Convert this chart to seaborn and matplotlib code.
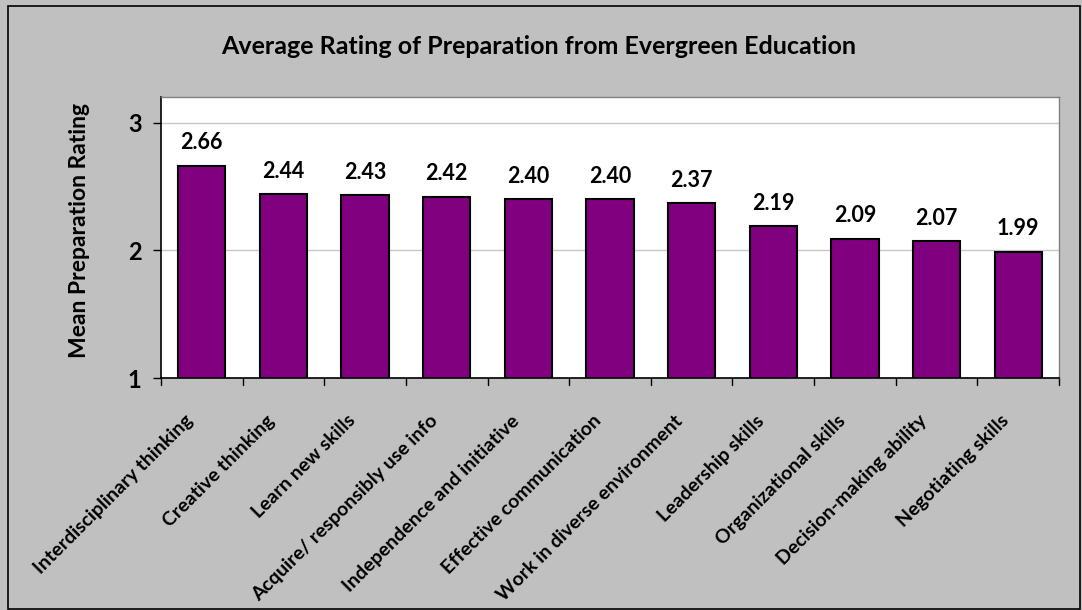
import matplotlib
matplotlib.use("Agg")
import matplotlib.pyplot as plt
import seaborn as sns
import pandas as pd
from matplotlib.patches import Rectangle
from matplotlib.transforms import ScaledTranslation

categories = ["Interdisciplinary thinking", "Creative thinking", "Learn new skills",
              "Acquire/ responsibly use info", "Independence and initiative",
              "Effective communication", "Work in diverse environment",
              "Leadership skills", "Organizational skills", "Decision-making ability",
              "Negotiating skills"]
values = [2.66, 2.44, 2.43, 2.42, 2.40, 2.40, 2.37, 2.19, 2.09, 2.07, 1.99]
yticks = [1, 2, 3]
title = "Average Rating of Preparation from Evergreen Education"
ylabel = "Mean Preparation Rating"

sns.set_style("white")
plt.rcParams['font.family'] = ['Lato', 'DejaVu Sans']
plt.rcParams['font.weight'] = 'bold'
for k in ['text.color', 'axes.labelcolor', 'xtick.color', 'ytick.color']:
    plt.rcParams[k] = 'black'

df = pd.DataFrame({"cat": categories, "val": values})

fig = plt.figure(figsize=(10.82, 6.10), dpi=100)
fig.patch.set_facecolor("#C0C0C0")
ax = fig.add_axes([161/1082, 1-378/610, (1059-161)/1082, (378-97)/610])
ax.set_facecolor("white")

sns.barplot(data=df, x="cat", y="val", color="#800080", edgecolor="black",
            linewidth=1.5, width=0.58, saturation=1, ax=ax)

ax.set_ylim(1, 3.2)
ax.set_xlim(-0.5, len(categories) - 0.5)
ax.set_yticks(yticks)
ax.set_yticklabels([str(t) for t in yticks], fontsize=17, fontweight='bold', color='black')
ax.yaxis.grid(True, color="#C8C8C8", linewidth=1)
ax.set_axisbelow(True)
ax.tick_params(axis='y', direction='out', length=6, width=1, color='black', left=True, pad=8)

ax.set_xticks([i for i in range(len(categories))])
ax.set_xticklabels(categories, rotation=45, ha='right', va='center', rotation_mode='anchor',
                   fontsize=14, fontweight='bold', color='black')
ax.tick_params(axis='x', length=0, pad=0)
shift = ScaledTranslation(-12/100, -40/100, fig.dpi_scale_trans)
for lab in ax.get_xticklabels():
    lab.set_transform(lab.get_transform() + shift)
for b in [i - 0.5 for i in range(len(categories) + 1)]:
    ax.plot([b, b], [0, -0.025], transform=ax.get_xaxis_transform(), color='black',
            linewidth=1, clip_on=False)

for s in ['left', 'bottom']:
    ax.spines[s].set_color('black')
    ax.spines[s].set_linewidth(1.2)
for s in ['top', 'right']:
    ax.spines[s].set_color('#808080')
    ax.spines[s].set_linewidth(1)
    ax.spines[s].set_visible(True)

for i, v in enumerate(values):
    ax.annotate(f"{v:.2f}", (i, v), xytext=(0, 9), textcoords='offset points',
                ha='center', va='bottom', fontsize=15.5, fontweight='bold', color='black')

ax.set_xlabel("")
ax.set_ylabel(ylabel, fontsize=16.5, fontweight='bold', color='black')
ax.yaxis.set_label_coords(-(161 - 90) / (1059 - 161), (378 - 230) / (378 - 97))

fig.text(0.498, 1-47/610, title, ha='center', va='center', fontsize=18, fontweight='bold',
         color='black')

fig.patches.append(Rectangle((8/1082, 1/610), 1 - 9/1082 - 1/1082, 1 - 7/610, transform=fig.transFigure,
                             fill=False, edgecolor='black', linewidth=1.2))

fig.savefig("out.png", dpi=100, facecolor=fig.get_facecolor())
